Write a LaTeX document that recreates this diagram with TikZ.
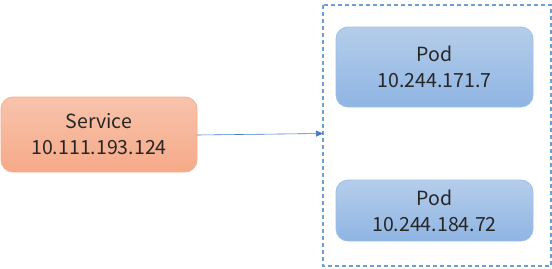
\documentclass[tikz,border=0pt]{standalone}
\usepackage{fontspec}
\setmainfont{Noto Sans CJK SC}
\usetikzlibrary{arrows.meta}
\definecolor{svcTop}{HTML}{F8C3AC}
\definecolor{svcBot}{HTML}{F5AA88}
\definecolor{svcLine}{HTML}{F5B08F}
\definecolor{podTop}{HTML}{B5CDEA}
\definecolor{podBot}{HTML}{8FB5E3}
\definecolor{podLine}{HTML}{9DBFE6}
\definecolor{dashCol}{HTML}{6A9FD6}
\definecolor{arrCol}{HTML}{4A78C8}
\tikzset{
  svcbox/.style={draw=svcLine, line width=0.8pt, rounded corners=12pt, top color=svcTop, bottom color=svcBot, minimum width=196pt, minimum height=75pt, align=center, font=\fontsize{19.5}{26}\selectfont, text=black!85},
  podbox/.style={draw=podLine, line width=0.8pt, rounded corners=12pt, top color=podTop, bottom color=podBot, minimum width=197pt, align=center, font=\fontsize{19.5}{26}\selectfont, text=black!85},
  groupbox/.style={draw=dashCol, line width=1.1pt, dash pattern=on 4pt off 3pt},
  conn/.style={draw=arrCol, line width=0.6pt, -{Triangle[length=7pt,width=6pt]}}
}
\begin{document}
\begin{tikzpicture}[x=1pt,y=-1pt]
\useasboundingbox (0,0) rectangle (552,268);
\node[svcbox] (svc) at (99,134.5) {Service\\10.111.193.124};
\node[podbox, minimum height=80pt] (pod1) at (434.5,67) {Pod\\10.244.171.7};
\node[podbox, minimum height=61pt] (pod2) at (434.5,210.5) {Pod\\10.244.184.72};
\draw[groupbox] (323,5) rectangle (551,266);
\coordinate (grp) at (323,133.5);
\coordinate (svcR) at (197,135);
\draw[conn] (svcR) -- (grp);
\end{tikzpicture}
\end{document}
